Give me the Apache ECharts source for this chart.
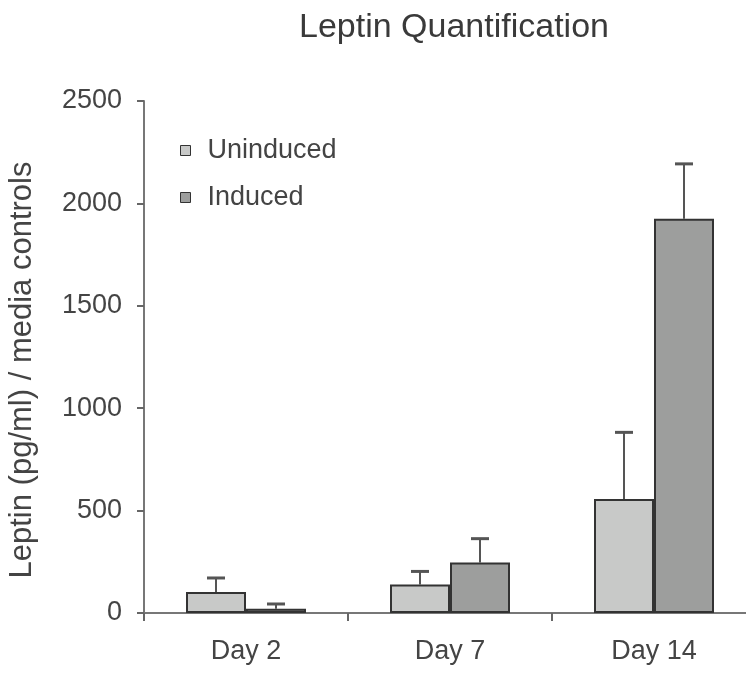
<!DOCTYPE html>
<html>
<head>
<meta charset="utf-8">
<script src="https://cdn.jsdelivr.net/npm/echarts@6/dist/echarts.min.js"></script>
<style>html,body{margin:0;padding:0;background:#fff}#c{width:746px;height:673px}</style>
</head>
<body>
<div id="c"></div>
<script>
var categories = ['Day 2', 'Day 7', 'Day 14'];
var seriesNames = ['Uninduced', 'Induced'];
var uninduced = [103, 139, 557];
var uninducedErr = [68, 64, 325];
var induced = [21, 246, 1925];
var inducedErr = [23, 117, 268];
var yTicks = [0, 500, 1000, 1500, 2000, 2500];

var FONT = 'Liberation Sans, Arial, sans-serif';
var BAR_W = 60;

function errData(vals, errs) {
  return vals.map(function (v, i) { return [i, v, v + errs[i]]; });
}

function errSeries(name, vals, errs, side) {
  return {
    type: 'custom',
    name: name + ' error',
    data: errData(vals, errs),
    z: 1,
    silent: true,
    renderItem: function (params, api) {
      var base = api.coord([api.value(0), api.value(1)]);
      var top = api.coord([api.value(0), api.value(2)]);
      var x = base[0] + side * BAR_W / 2;
      return {
        type: 'group',
        children: [
          { type: 'line', shape: { x1: x, y1: base[1], x2: x, y2: top[1] }, style: { stroke: '#555', lineWidth: 2 } },
          { type: 'line', shape: { x1: x - 9, y1: top[1], x2: x + 9, y2: top[1] }, style: { stroke: '#555', lineWidth: 3 } }
        ]
      };
    }
  };
}

var chart = echarts.init(document.getElementById('c'));
chart.setOption({
  animation: false,
  title: {
    text: 'Leptin Quantification',
    left: 449, top: 6, textAlign: 'center',
    textStyle: { fontFamily: FONT, fontSize: 34, fontWeight: 'normal', color: '#3a3a3a' }
  },
  legend: {
    data: seriesNames,
    orient: 'vertical',
    left: 175, top: 132,
    itemWidth: 10, itemHeight: 10, itemGap: 20,
    icon: 'rect',
    itemStyle: { borderColor: '#333', borderWidth: 1 },
    textStyle: { fontFamily: FONT, fontSize: 27, color: '#444', padding: [0, 0, 0, 12] }
  },
  grid: { left: 144, top: 101, right: -10, bottom: 60, outerBoundsMode: 'none', containLabel: false },
  xAxis: {
    type: 'category',
    data: categories,
    axisLine: { lineStyle: { color: '#777', width: 2 } },
    axisTick: { show: true, length: 8, lineStyle: { color: '#666', width: 2 } },
    axisLabel: { fontFamily: FONT, fontSize: 27, color: '#444', margin: 25 }
  },
  yAxis: {
    type: 'value',
    min: 0, max: 2500, interval: 500,
    name: 'Leptin (pg/ml) / media controls',
    nameLocation: 'middle', nameRotate: 90, nameGap: 106,
    nameTextStyle: { fontFamily: FONT, fontSize: 31, color: '#444', padding: [0, 26, 0, 0] },
    splitLine: { show: false },
    axisLine: { show: true, lineStyle: { color: '#777', width: 2 } },
    axisTick: { show: true, length: 7, lineStyle: { color: '#666', width: 2 } },
    axisLabel: {
      fontFamily: FONT, fontSize: 27, color: '#444', margin: 22,
      formatter: function (v) { return yTicks.indexOf(v) >= 0 ? String(v) : ''; }
    }
  },
  series: [
    {
      name: seriesNames[0], type: 'bar', data: uninduced, barWidth: BAR_W, barGap: '0%', z: 2,
      itemStyle: { color: '#c8c9c8', borderColor: '#333', borderWidth: 2 }
    },
    {
      name: seriesNames[1], type: 'bar', data: induced, barWidth: BAR_W, barGap: '0%', z: 2,
      itemStyle: { color: '#9d9e9d', borderColor: '#333', borderWidth: 2 }
    },
    errSeries(seriesNames[0], uninduced, uninducedErr, -1),
    errSeries(seriesNames[1], induced, inducedErr, 1)
  ]
});
</script>
</body>
</html>
